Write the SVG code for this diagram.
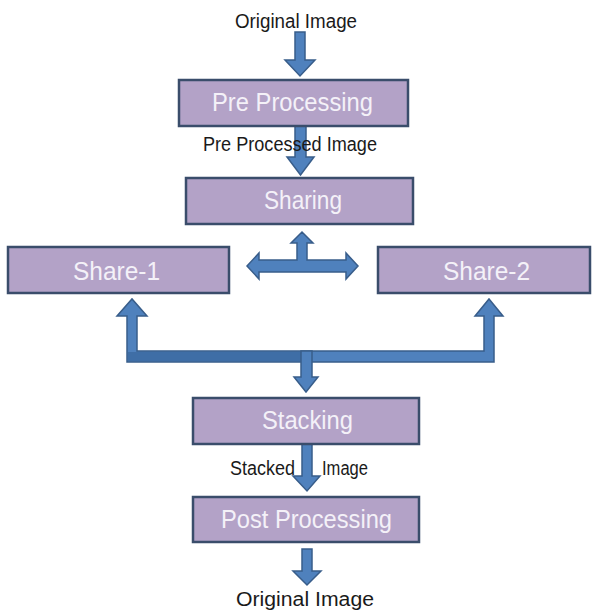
<svg xmlns="http://www.w3.org/2000/svg" width="595" height="614" viewBox="0 0 595 614">
  <style>
    .box { fill: #b3a2c7; stroke: #3a4d6b; stroke-width: 2.5; }
    .btxt { font-family: "Liberation Sans", Arial, sans-serif; font-size: 25px; fill: #f4f1f8; }
    .lbl { font-family: "Liberation Sans", Arial, sans-serif; font-size: 19.5px; fill: #1a1a1a; }
    .arr { fill: #4f81bd; stroke: #385d8a; stroke-width: 1.5; stroke-linejoin: miter; }
  </style>
  <rect width="595" height="614" fill="#ffffff"/>
  <g id="connectors">
    <path class="arr" d="M295,32 H305 V60 H315 L300,76 L285,60 H295 Z"/>
    <path class="arr" d="M295,126 H306 V157 H314 L300.5,175 L287,157 H295 Z"/>
    <path class="arr" d="M247,266 L259,253 V260 H297 V243 H291 L302,232 L313,243 H307 V260 H346 V253 L358,266 L346,279 V272 H259 V279 Z"/>
    <path class="arr" d="M127,362 V316 H117 L132,299 L147,316 H137 V351 H484 V316 H475 L489,299 L503,316 H494 V362 Z"/>
    <path d="M128,352 H305 V361 H128 Z" fill="#3f6ea6"/>
    <path class="arr" d="M301,351 H312 V377 H318 L306,392 L294,377 H301 Z"/>
    <path class="arr" d="M302,444 H312 V476 H320 L307,491 L293,476 H302 Z"/>
    <path class="arr" d="M302,549 H312 V571 H321 L307,585 L293,571 H302 Z"/>
  </g>
  <g id="label-original-top">
    <text class="lbl" x="235" y="28" textLength="122" lengthAdjust="spacingAndGlyphs">Original Image</text>
  </g>
  <g id="node-preprocessing">
    <rect class="box" x="179" y="80" width="229" height="46"/>
    <text class="btxt" x="212" y="111" textLength="161" lengthAdjust="spacingAndGlyphs">Pre Processing</text>
  </g>
  <g id="label-preprocessed">
    <text class="lbl" x="203" y="151" textLength="174" lengthAdjust="spacingAndGlyphs">Pre Processed Image</text>
  </g>
  <g id="node-sharing">
    <rect class="box" x="186" y="178" width="227" height="46"/>
    <text class="btxt" x="264" y="209" textLength="78" lengthAdjust="spacingAndGlyphs">Sharing</text>
  </g>
  <g id="node-share1">
    <rect class="box" x="8" y="247" width="221" height="46"/>
    <text class="btxt" x="73" y="280" textLength="87" lengthAdjust="spacingAndGlyphs">Share-1</text>
  </g>
  <g id="node-share2">
    <rect class="box" x="378" y="247" width="212" height="46"/>
    <text class="btxt" x="443" y="280" textLength="87" lengthAdjust="spacingAndGlyphs">Share-2</text>
  </g>
  <g id="node-stacking">
    <rect class="box" x="193" y="398" width="226" height="46"/>
    <text class="btxt" x="262" y="429" textLength="91" lengthAdjust="spacingAndGlyphs">Stacking</text>
  </g>
  <g id="label-stacked">
    <text class="lbl" x="230" y="475" textLength="65" lengthAdjust="spacingAndGlyphs">Stacked</text>
    <text class="lbl" x="322" y="475" textLength="46" lengthAdjust="spacingAndGlyphs">Image</text>
  </g>
  <g id="node-postprocessing">
    <rect class="box" x="193" y="497" width="226" height="45"/>
    <text class="btxt" x="221" y="528" textLength="171" lengthAdjust="spacingAndGlyphs">Post Processing</text>
  </g>
  <g id="label-original-bottom">
    <text class="lbl" x="236" y="606" textLength="138" lengthAdjust="spacingAndGlyphs">Original  Image</text>
  </g>
</svg>
